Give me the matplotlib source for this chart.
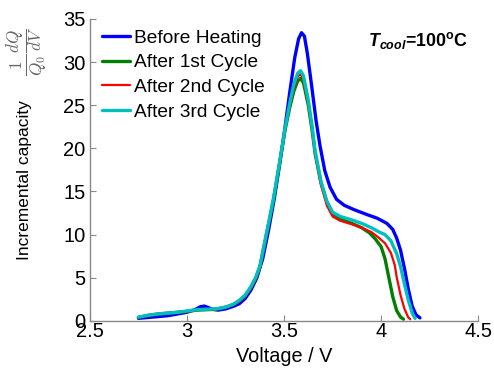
import numpy as np
import matplotlib
matplotlib.use("Agg")
import matplotlib.pyplot as plt

plt.rcParams['font.family'] = ['Liberation Sans', 'DejaVu Sans']
plt.rcParams['mathtext.fontset'] = 'custom'
plt.rcParams['mathtext.rm'] = 'Liberation Sans'
plt.rcParams['mathtext.it'] = 'Liberation Sans:italic'
plt.rcParams['mathtext.bf'] = 'Liberation Sans:bold'
plt.rcParams['mathtext.bfit'] = 'Liberation Sans:italic:bold'

# ---- data ----
v_before = [2.75, 2.80, 2.85, 2.90, 2.95, 3.00, 3.04, 3.07, 3.09, 3.11, 3.13, 3.16, 3.20,
            3.24, 3.27, 3.30, 3.33, 3.36, 3.39, 3.42, 3.45, 3.475, 3.50, 3.53, 3.555,
            3.575, 3.59, 3.605, 3.62, 3.643, 3.665, 3.686, 3.71, 3.737, 3.77, 3.81,
            3.86, 3.93, 3.98, 4.03, 4.06, 4.08, 4.10, 4.12, 4.14, 4.16, 4.18, 4.20]
ic_before = [0.3, 0.4, 0.5, 0.6, 0.8, 1.0, 1.3, 1.65, 1.72, 1.55, 1.35, 1.25, 1.4,
             1.7, 2.0, 2.6, 3.6, 5.0, 7.2, 10.5, 14.2, 17.8, 21.6, 26.6, 30.5,
             32.7, 33.4, 33.0, 31.0, 27.1, 23.2, 20.2, 17.4, 15.5, 14.1, 13.4,
             12.9, 12.3, 11.9, 11.3, 10.6, 9.6, 8.2, 6.1, 3.7, 1.7, 0.7, 0.35]

v_cycle1 = [2.75, 2.80, 2.85, 2.90, 2.95, 3.00, 3.05, 3.10, 3.15, 3.20, 3.24, 3.27,
            3.30, 3.33, 3.355, 3.376, 3.41, 3.445, 3.475, 3.505, 3.53, 3.55, 3.57,
            3.585, 3.60, 3.625, 3.645, 3.66, 3.69, 3.72, 3.75, 3.79, 3.85, 3.90,
            3.94, 3.97, 4.00, 4.02, 4.04, 4.06, 4.08, 4.10, 4.115]
ic_cycle1 = [0.4, 0.65, 0.8, 0.9, 1.0, 1.1, 1.25, 1.3, 1.35, 1.6, 1.9, 2.3,
             2.9, 3.9, 5.0, 6.3, 10.1, 14.0, 18.0, 22.1, 24.8, 26.6, 27.8,
             28.1, 27.6, 25.0, 22.0, 19.4, 16.0, 13.8, 12.4, 11.8, 11.3, 10.8,
             10.2, 9.5, 8.6, 7.2, 5.0, 2.8, 1.2, 0.45, 0.2]

v_cycle2 = [2.75, 2.80, 2.85, 2.90, 2.95, 3.00, 3.05, 3.10, 3.15, 3.20, 3.24, 3.27,
            3.30, 3.33, 3.355, 3.376, 3.41, 3.445, 3.475, 3.505, 3.53, 3.55, 3.57,
            3.585, 3.60, 3.625, 3.645, 3.66, 3.69, 3.72, 3.75, 3.79, 3.85, 3.90,
            3.95, 3.99, 4.02, 4.05, 4.07, 4.08, 4.10, 4.12, 4.14, 4.15]
ic_cycle2 = [0.4, 0.6, 0.75, 0.85, 1.0, 1.1, 1.25, 1.35, 1.35, 1.55, 1.85, 2.25,
             2.85, 3.8, 4.9, 6.2, 10.0, 14.0, 18.0, 22.1, 25.0, 27.0, 28.3,
             28.6, 28.0, 25.3, 22.2, 19.4, 15.8, 13.4, 12.1, 11.6, 11.2, 10.8,
             10.3, 9.6, 9.0, 7.9, 6.5, 5.1, 3.0, 1.4, 0.4, 0.2]

v_cycle3 = [2.75, 2.80, 2.85, 2.90, 2.95, 3.00, 3.05, 3.10, 3.15, 3.20, 3.24, 3.27,
            3.30, 3.33, 3.355, 3.376, 3.41, 3.445, 3.475, 3.505, 3.53, 3.55, 3.57,
            3.585, 3.60, 3.625, 3.645, 3.66, 3.69, 3.72, 3.75, 3.79, 3.85, 3.90,
            3.95, 3.99, 4.02, 4.05, 4.08, 4.10, 4.12, 4.14, 4.16, 4.175]
ic_cycle3 = [0.45, 0.65, 0.8, 0.9, 1.0, 1.15, 1.3, 1.35, 1.4, 1.6, 1.95, 2.4,
             3.0, 4.0, 5.1, 6.4, 10.2, 14.1, 18.1, 22.3, 25.3, 27.4, 28.7,
             29.0, 28.4, 25.6, 22.5, 19.7, 16.2, 13.9, 12.6, 12.1, 11.7, 11.3,
             10.8, 10.3, 10.0, 9.3, 7.8, 6.3, 4.3, 2.4, 0.9, 0.3]

labels = ['Before Heating', 'After 1st Cycle', 'After 2nd Cycle', 'After 3rd Cycle']
colors = ['#0000ff', '#008000', '#ff0000', '#00bfbf']
x_ticks = [2.5, 3, 3.5, 4, 4.5]
y_ticks = [0, 5, 10, 15, 20, 25, 30, 35]

# ---- figure ----
fig = plt.figure(figsize=(4.94, 3.71), dpi=100)
ax = fig.add_axes([0.182, 0.135, 0.786, 0.814])

series = [(v_before, ic_before), (v_cycle1, ic_cycle1),
          (v_cycle2, ic_cycle2), (v_cycle3, ic_cycle3)]
widths = [2.4, 2.4, 1.6, 2.4]
for (v, ic), lab, col, lw in zip(series, labels, colors, widths):
    ax.plot(v, ic, color=col, lw=lw, label=lab,
            solid_joinstyle='round', solid_capstyle='round')

ax.set_xlim(2.5, 4.5)
ax.set_ylim(0, 35)
ax.set_xticks(x_ticks)
ax.set_xticklabels(['2.5', '3', '3.5', '4', '4.5'])
ax.set_yticks(y_ticks)
for side in ['top', 'right']:
    ax.spines[side].set_visible(False)
for side in ['left', 'bottom']:
    ax.spines[side].set_color('#888888')
    ax.spines[side].set_linewidth(1.0)
ax.tick_params(direction='in', length=4, color='#888888', labelsize=14.5,
               labelcolor='black')
ax.tick_params(axis='x', pad=1)
ax.tick_params(axis='y', pad=3)

ax.set_xlabel('Voltage / V', fontsize=14.3, labelpad=4)

fig.text(0.049, 0.515, 'Incremental capacity', rotation=90, fontsize=12.5,
         ha='center', va='center')
# small normalising factor drawn above the axis label
fig.text(0.055, 0.862, r'$\frac{1}{Q_0}\frac{dQ}{dV}$', rotation=90, fontsize=17.5,
         ha='center', va='center', color='#666666', math_fontfamily='cm')

ax.text(0.716, 0.93, r'$\mathbfit{T}_{\mathbfit{cool}}$=100$^{\mathbf{o}}$C',
        transform=ax.transAxes, fontsize=12.8, fontweight='bold',
        ha='left', va='center')

ax.legend(loc='upper left', bbox_to_anchor=(0.0, 1.007), frameon=False,
          fontsize=13.8, handlelength=1.45, handletextpad=0.2,
          labelspacing=0.38, borderaxespad=0.25)

fig.savefig('out.png', dpi=100)
